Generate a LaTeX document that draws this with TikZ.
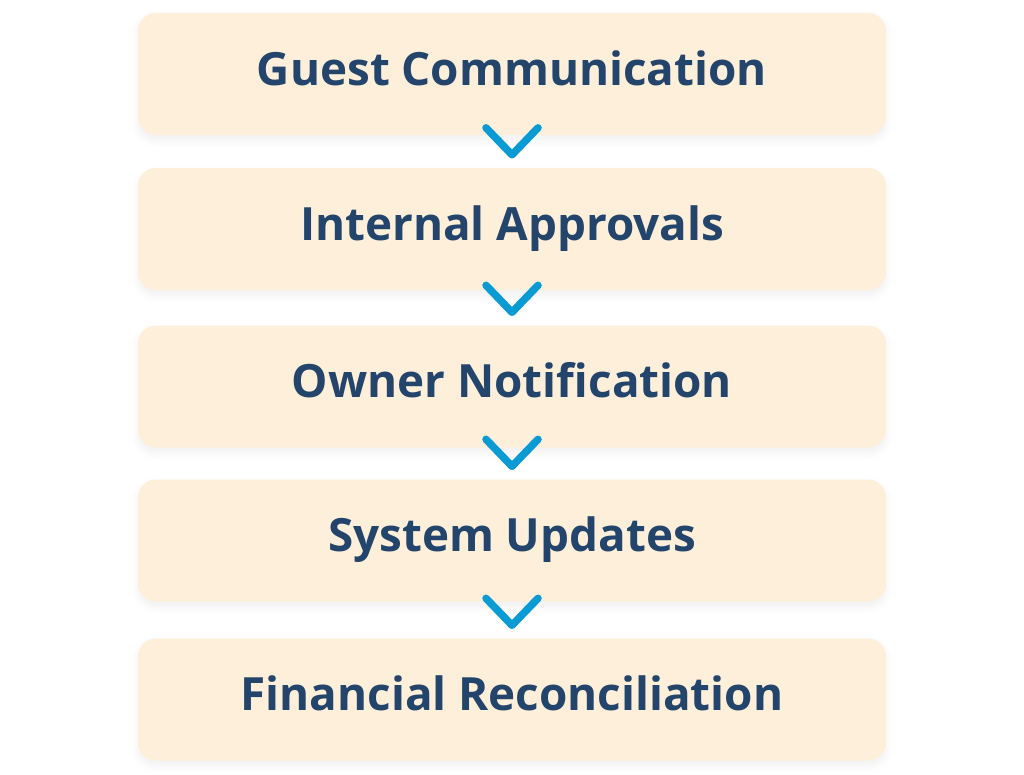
\documentclass[tikz,border=0pt]{standalone}
\usepackage{fontspec}
\setmainfont{Open Sans}
\usetikzlibrary{calc}
\usetikzlibrary{shadows.blur}

\definecolor{boxfill}{HTML}{FDEFD9}
\definecolor{boxtext}{HTML}{23446B}
\definecolor{chevblue}{HTML}{0A9BD5}

\begin{document}
\begin{tikzpicture}[x=1pt, y=-1pt,
    stepbox/.style={rectangle, fill=boxfill, rounded corners=18pt, minimum width=748pt, minimum height=122pt,
      inner sep=0pt, text height=33pt, text depth=11pt, text=boxtext, font=\fontsize{45.8}{54}\selectfont\bfseries,
      blur shadow={shadow xshift=0pt, shadow yshift=-5pt, shadow opacity=6, shadow blur radius=8pt}},
    chev/.style={draw=chevblue, line width=7.5pt, line cap=round, line join=round}]
      \useasboundingbox (0, 0) rectangle (1024, 774);

      \node[stepbox] (1) at (512, 74) {Guest Communication};
      \node[stepbox] (2) at (512, 229) {Internal Approvals};
      \node[stepbox] (3) at (512, 386.5) {Owner Notification};
      \node[stepbox] (4) at (512, 540.5) {System Updates};
      \node[stepbox] (5) at (512, 699.5) {Financial Reconciliation};

      \foreach \b in {2, 3, 4, 5}
        \draw[chev] ($(\b.north)+(-26, -40)$) -- ($(\b.north)+(0, -13)$) -- ($(\b.north)+(26, -40)$);
    \end{tikzpicture}
\end{document}
